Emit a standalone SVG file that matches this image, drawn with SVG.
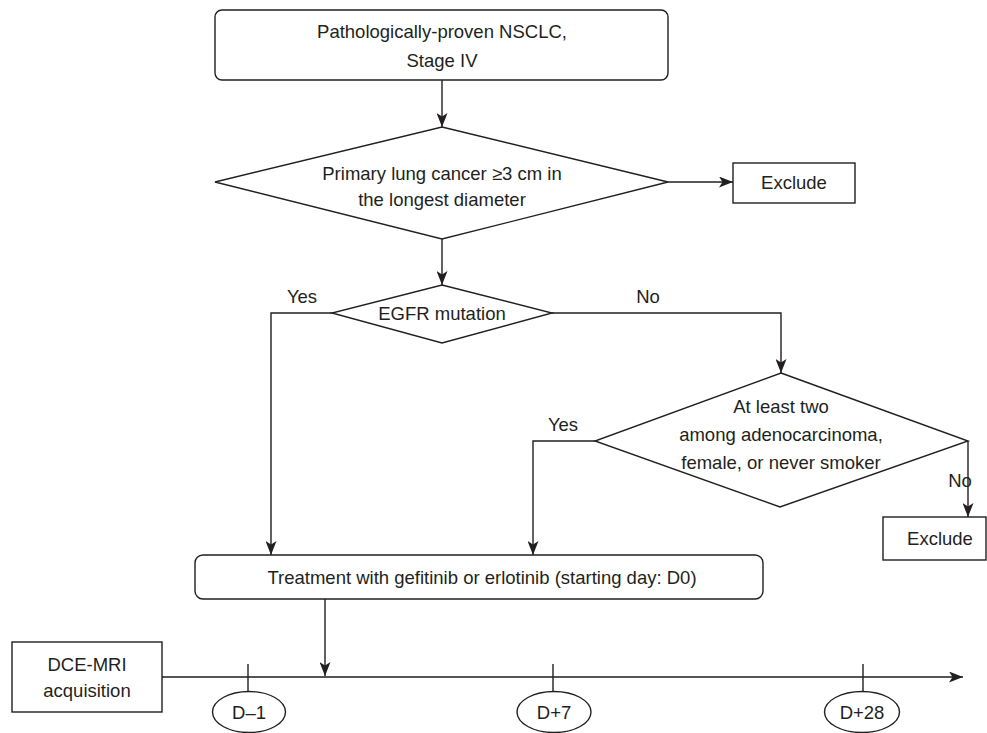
<svg xmlns="http://www.w3.org/2000/svg" width="987" height="733" viewBox="0 0 987 733">
<defs>
<style>
.t{font-family:"Liberation Sans",Arial,sans-serif;font-size:18.5px;fill:#231f20;text-anchor:middle}
.s{fill:#fff;stroke:#231f20;stroke-width:1.4}
.c{fill:none;stroke:#231f20;stroke-width:1.4}
.ax{fill:none;stroke:#555;stroke-width:2}
</style>
<marker id="ah" viewBox="0 0 14 11" refX="14" refY="5.5" markerWidth="14" markerHeight="11" markerUnits="userSpaceOnUse" orient="auto">
<path d="M0,0 L14,5.5 L0,11 L3.5,5.5 Z" fill="#231f20"/>
</marker>
</defs>
<rect width="987" height="733" fill="#fff"/>
<g id="connectors">
<line class="c" x1="442" y1="80" x2="442" y2="127" marker-end="url(#ah)"/>
<line class="c" x1="668" y1="182" x2="733" y2="182" marker-end="url(#ah)"/>
<line class="c" x1="442" y1="239" x2="442" y2="285" marker-end="url(#ah)"/>
<polyline class="c" points="332,313 271,313 271,555" marker-end="url(#ah)"/>
<polyline class="c" points="552,313 781,313 781,373" marker-end="url(#ah)"/>
<polyline class="c" points="595,441 533,441 533,555" marker-end="url(#ah)"/>
<polyline class="c" points="968,441 968,517" marker-end="url(#ah)"/>
<line class="c" x1="325" y1="599" x2="325" y2="676" marker-end="url(#ah)"/>
<text class="t" x="302" y="303">Yes</text>
<text class="t" x="648" y="303">No</text>
<text class="t" x="563" y="431">Yes</text>
<text class="t" x="960" y="487">No</text>
</g>
<g id="n_start">
<rect class="s" x="215" y="10" width="453" height="70" rx="7"/>
<text class="t" x="442" y="38">Pathologically-proven NSCLC,</text>
<text class="t" x="442" y="67">Stage IV</text>
</g>
<g id="n_size">
<polygon class="s" points="442,127 668,182 442,239 215,182"/>
<text class="t" x="442" y="180">Primary lung cancer ≥3 cm in</text>
<text class="t" x="442" y="206">the longest diameter</text>
</g>
<g id="n_exclude1">
<rect class="s" x="733" y="163" width="122" height="40"/>
<text class="t" x="794" y="189">Exclude</text>
</g>
<g id="n_egfr">
<polygon class="s" points="442,285 552,313 442,343 332,313"/>
<text class="t" x="442" y="320">EGFR mutation</text>
</g>
<g id="n_clinical">
<polygon class="s" points="781,373 968,441 780,507 595,441"/>
<text class="t" x="781" y="413">At least two</text>
<text class="t" x="781" y="441">among adenocarcinoma,</text>
<text class="t" x="781" y="469">female, or never smoker</text>
</g>
<g id="n_exclude2">
<rect class="s" x="883" y="517" width="103" height="43"/>
<text class="t" x="940" y="545">Exclude</text>
</g>
<g id="n_treat">
<rect class="s" x="195" y="555" width="568" height="44" rx="8"/>
<text class="t" x="482" y="584">Treatment with gefitinib or erlotinib (starting day: D0)</text>
</g>
<g id="timeline">
<line class="ax" x1="162" y1="677" x2="963" y2="677" marker-end="url(#ah)"/>
<line class="c" x1="248" y1="664" x2="248" y2="691"/>
<line class="c" x1="553" y1="664" x2="553" y2="691"/>
<line class="c" x1="863" y1="664" x2="863" y2="691"/>
</g>
<g id="n_dce">
<rect class="s" x="12" y="642" width="150" height="70"/>
<text class="t" x="87" y="671">DCE-MRI</text>
<text class="t" x="87" y="697">acquisition</text>
</g>
<g id="n_d_1">
<ellipse class="s" cx="249" cy="712" rx="36.5" ry="20.5"/>
<text class="t" x="249" y="719">D–1</text>
</g>
<g id="n_d7">
<ellipse class="s" cx="554" cy="712" rx="37" ry="20.5"/>
<text class="t" x="554" y="719">D+7</text>
</g>
<g id="n_d28">
<ellipse class="s" cx="862" cy="712" rx="37.5" ry="20.5"/>
<text class="t" x="862" y="719">D+28</text>
</g>
</svg>
